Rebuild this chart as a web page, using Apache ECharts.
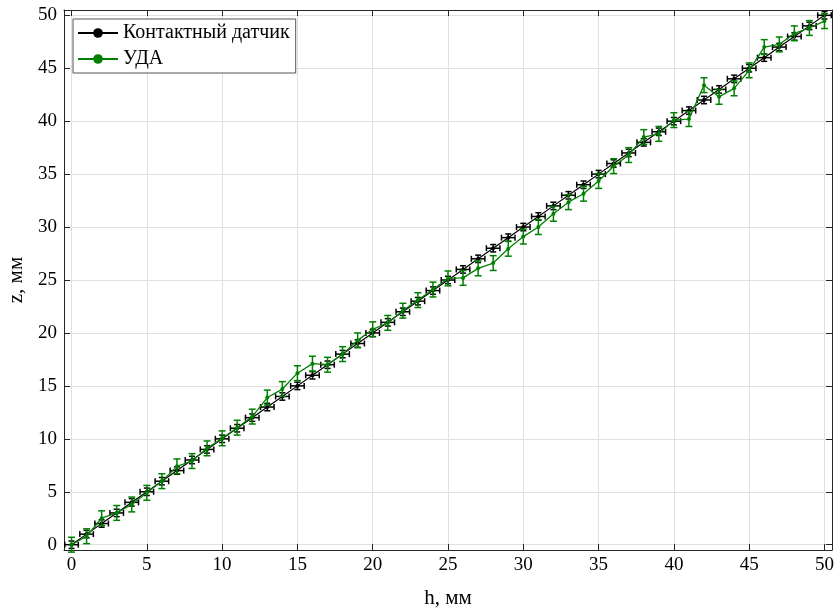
<!DOCTYPE html>
<html>
<head>
<meta charset="utf-8">
<script src="https://cdn.jsdelivr.net/npm/echarts@6/dist/echarts.min.js"></script>
<style>
  html, body { margin: 0; padding: 0; background: #fff; }
  #chart { width: 840px; height: 614px; }
</style>
</head>
<body>
<div id="chart"></div>
<script>
// h, мм
var hVals = [0, 1, 2, 3, 4, 5, 6, 7, 8, 9, 10, 11, 12, 13, 14, 15, 16, 17, 18, 19, 20,
    21, 22, 23, 24, 25, 26, 27, 28, 29, 30, 31, 32, 33, 34, 35, 36, 37, 38, 39, 40,
    41, 42, 43, 44, 45, 46, 47, 48, 49, 50];
// контактный датчик
var contactZ = [0, 1, 2, 3, 4, 5, 6, 7, 8, 9, 10, 11, 12, 13, 14, 15, 16, 17, 18, 19, 20,
    21, 22, 23, 24, 25, 26, 27, 28, 29, 30, 31, 32, 33, 34, 35, 36, 37, 38, 39, 40,
    41, 42, 43, 44, 45, 46, 47, 48, 49, 50];
// УДА
var udaZ = [0, 0.8, 2.5, 3.0, 3.8, 4.9, 6.0, 7.4, 7.9, 9.1, 10.05, 11.05, 12.1, 13.9, 14.7,
    16.2, 17.1, 17.0, 18.0, 19.3, 20.35, 20.95, 22.1, 23.1, 24.1, 25.15, 25.2, 26.1, 26.6,
    27.95, 29.1, 30.0, 31.25, 32.35, 33.15, 34.35, 35.75, 36.8, 38.5, 38.8, 40.1, 40.2,
    43.4, 42.3, 43.1, 44.8, 47.0, 47.25, 48.3, 48.8, 49.45];
var contactErrH = 0.45;
var contactErrZ = 0.35;
var udaErrZ = 0.7;
var tickVals = [0, 5, 10, 15, 20, 25, 30, 35, 40, 45, 50];

var FONT = 'Liberation Serif';
var AXC = '#262626';

function pairs(xs, ys) {
    return xs.map(function (x, i) { return [x, ys[i]]; });
}

// error bars: value = [x, y, dx, dy]
function errBars(color, cap) {
    return function (params, api) {
        var x = api.value(0), y = api.value(1), dx = api.value(2), dy = api.value(3);
        var kids = [];
        var st = { stroke: color, lineWidth: 1.5 };
        if (dx > 0) {
            var a = api.coord([x - dx, y]), b = api.coord([x + dx, y]);
            kids.push({ type: 'line', shape: { x1: a[0], y1: a[1], x2: b[0], y2: b[1] }, style: st });
            kids.push({ type: 'line', shape: { x1: a[0], y1: a[1] - cap, x2: a[0], y2: a[1] + cap }, style: st });
            kids.push({ type: 'line', shape: { x1: b[0], y1: b[1] - cap, x2: b[0], y2: b[1] + cap }, style: st });
        }
        if (dy > 0) {
            var c = api.coord([x, y - dy]), d = api.coord([x, y + dy]);
            kids.push({ type: 'line', shape: { x1: c[0], y1: c[1], x2: d[0], y2: d[1] }, style: st });
            kids.push({ type: 'line', shape: { x1: c[0] - cap, y1: c[1], x2: c[0] + cap, y2: c[1] }, style: st });
            kids.push({ type: 'line', shape: { x1: d[0] - cap, y1: d[1], x2: d[0] + cap, y2: d[1] }, style: st });
        }
        return { type: 'group', children: kids };
    };
}

function axisBase(pos, show) {
    return {
        type: 'value',
        position: pos,
        min: -0.5,
        max: 50.5,
        axisLine: { show: true, onZero: false, lineStyle: { color: AXC, width: 1 } },
        axisTick: { show: true, inside: true, length: 6, customValues: tickVals, lineStyle: { color: AXC } },
        axisLabel: {
            show: show, customValues: tickVals, color: '#000',
            fontFamily: FONT, fontSize: 19
        },
        splitLine: { show: show, lineStyle: { color: '#e0e0e0', width: 1 } }
    };
}

var dom = document.getElementById('chart');
var myChart = echarts.init(dom, null, { renderer: 'canvas' });

var x0 = axisBase('bottom', true);
x0.name = 'h, мм';
x0.nameLocation = 'middle';
x0.nameGap = 38;
x0.nameTextStyle = { fontFamily: FONT, fontSize: 21, color: '#000' };
x0.axisLabel.margin = 6;
var x1 = axisBase('top', false);

var y0 = axisBase('left', true);
y0.name = 'z, мм';
y0.nameLocation = 'middle';
y0.nameGap = 25;
y0.nameTextStyle = { fontFamily: FONT, fontSize: 21, color: '#000' };
y0.axisLabel.margin = 7;
var y1 = axisBase('right', false);

var option = {
    animation: false,
    grid: { left: 64, right: 8, top: 10, bottom: 64, outerBoundsMode: 'none', containLabel: false },
    xAxis: [x0, x1],
    yAxis: [y0, y1],
    legend: {
        left: 73,
        top: 19,
        orient: 'vertical',
        backgroundColor: '#fff',
        borderColor: '#555',
        borderWidth: 1,
        borderRadius: 0,
        padding: [4, 6, 4, 4],
        itemGap: 6,
        itemWidth: 40,
        itemHeight: 12,
        textStyle: { fontFamily: FONT, fontSize: 20, color: '#000' },
        data: ['Контактный датчик', 'УДА']
    },
    series: [
        {
            name: 'Контактный датчик',
            type: 'line',
            data: pairs(hVals, contactZ),
            symbol: 'circle',
            symbolSize: 4,
            itemStyle: { color: '#000' },
            lineStyle: { color: '#000', width: 1.2 },
            z: 2
        },
        {
            name: 'Контактный датчик',
            type: 'custom',
            renderItem: errBars('#000', 3),
            data: hVals.map(function (x, i) { return [x, contactZ[i], contactErrH, contactErrZ]; }),
            clip: false,
            z: 2
        },
        {
            name: 'УДА',
            type: 'line',
            data: pairs(hVals, udaZ),
            symbol: 'circle',
            symbolSize: 4,
            itemStyle: { color: '#008000' },
            lineStyle: { color: '#008000', width: 1.3 },
            z: 3
        },
        {
            name: 'УДА',
            type: 'custom',
            renderItem: errBars('#008000', 3.5),
            data: hVals.map(function (x, i) { return [x, udaZ[i], 0, udaErrZ]; }),
            clip: false,
            z: 3
        }
    ]
};
myChart.setOption(option);
</script>
</body>
</html>
